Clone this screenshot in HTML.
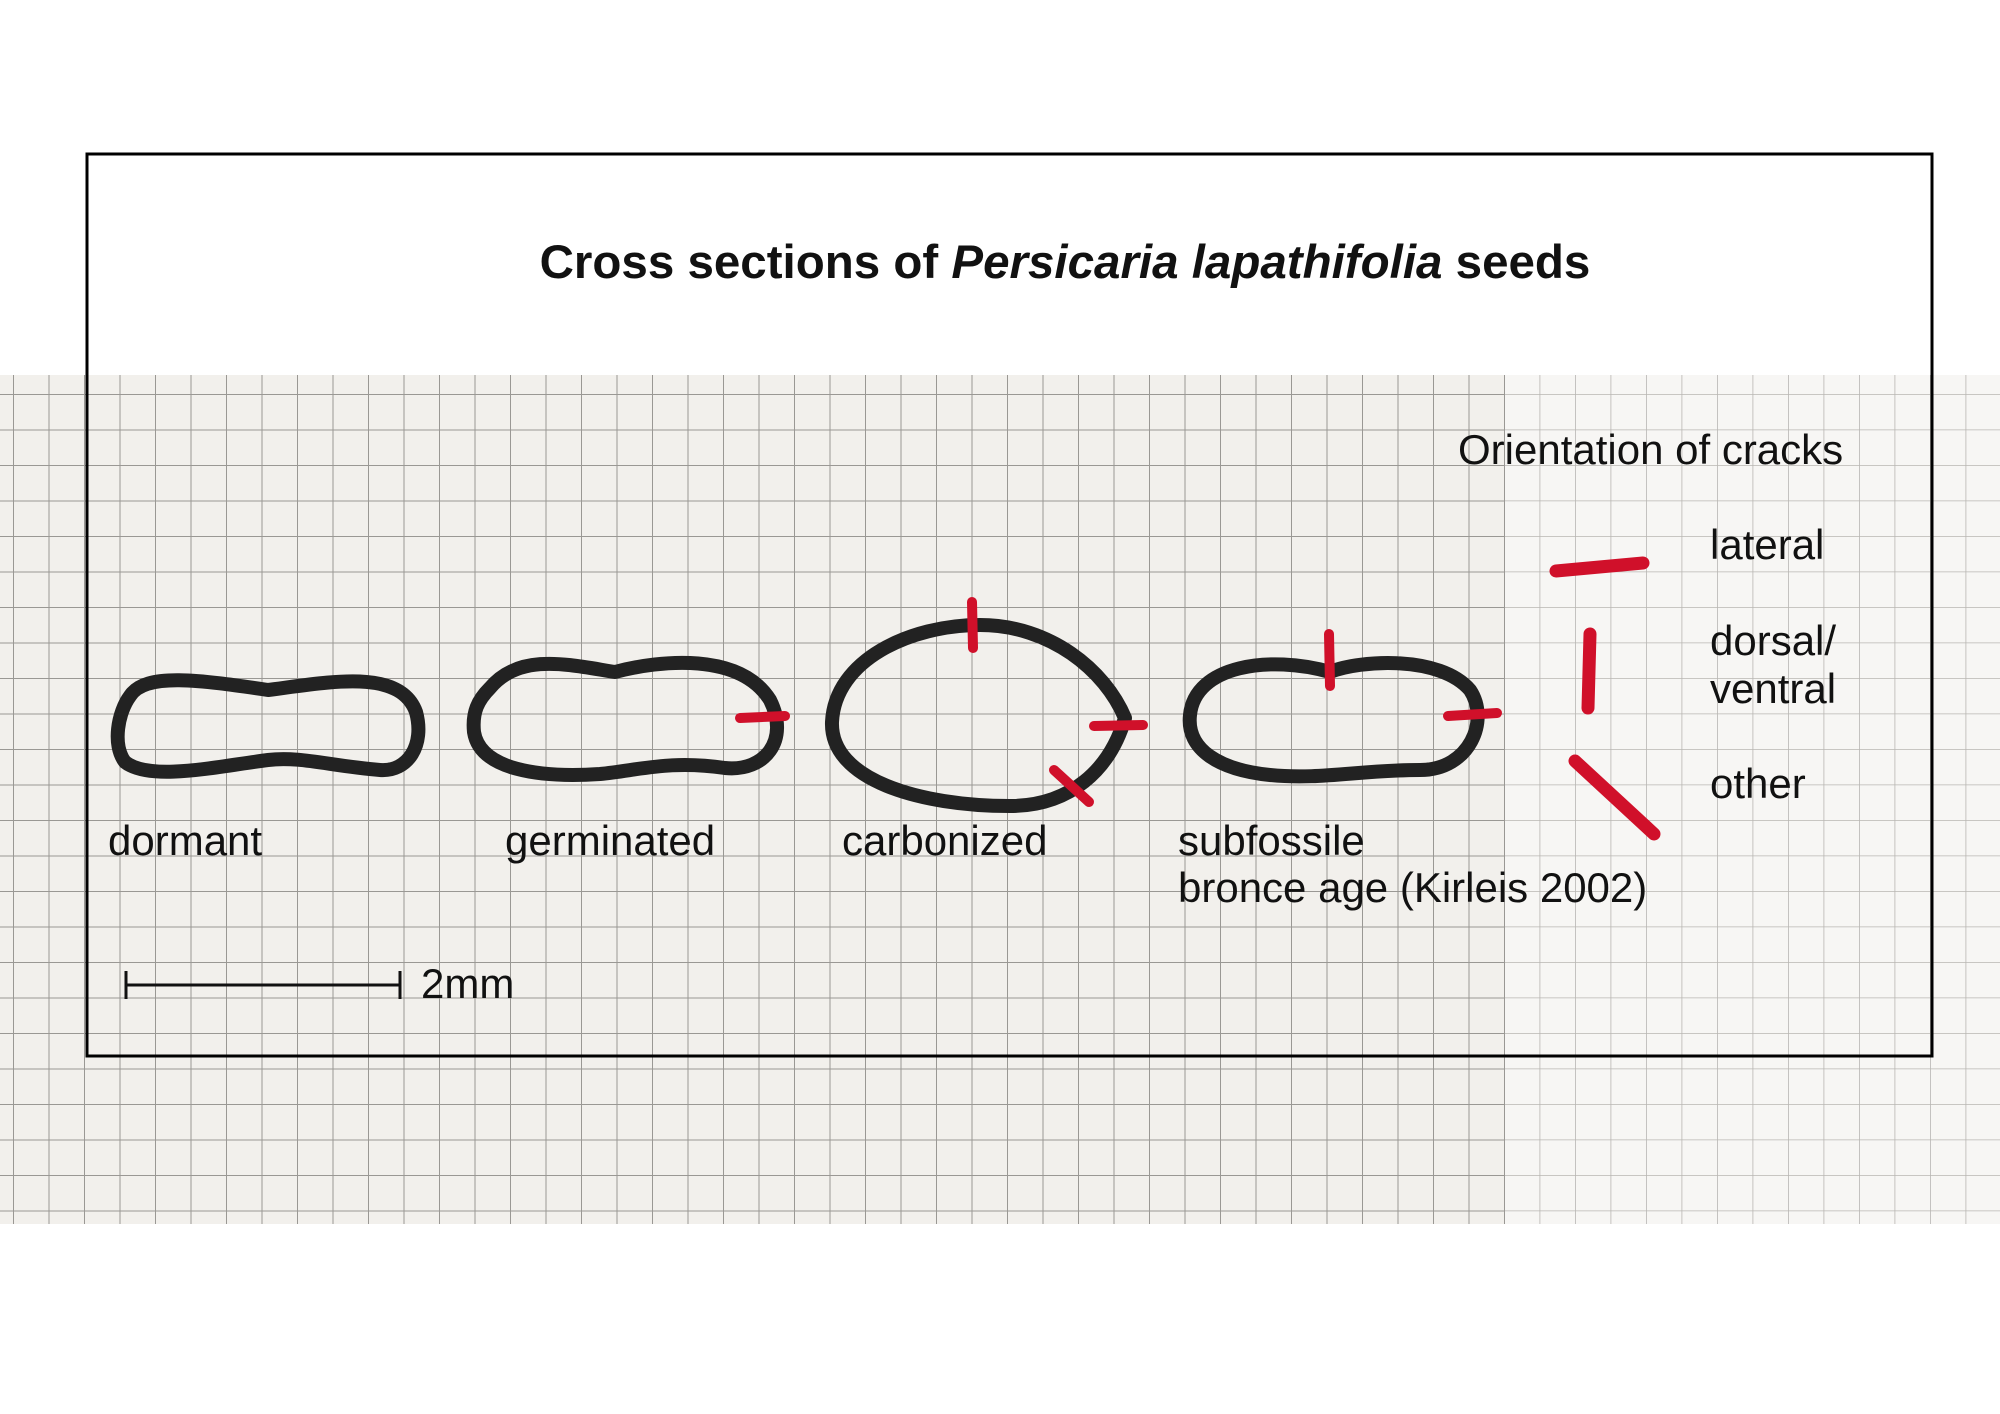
<!DOCTYPE html>
<html><head><meta charset="utf-8"><style>
html,body{margin:0;padding:0;background:#fff}
svg{display:block}
text{font-family:"Liberation Sans",sans-serif;fill:#111}
</style></head><body>
<svg width="2000" height="1414" viewBox="0 0 2000 1414" xmlns="http://www.w3.org/2000/svg">
<defs>
<pattern id="g" x="13" y="394" width="35.5" height="35.5" patternUnits="userSpaceOnUse">
<path d="M0 0V35.5M0 0H35.5" stroke="#9a9894" stroke-width="2" fill="none"/>
</pattern>
<pattern id="g2" x="13" y="394" width="35.5" height="35.5" patternUnits="userSpaceOnUse">
<path d="M0 0V35.5M0 0H35.5" stroke="#b8b6b2" stroke-width="1.6" fill="none"/>
</pattern>
</defs>
<rect x="0" y="375" width="1505" height="849" fill="#f2f0ec"/>
<rect x="0" y="375" width="1505" height="849" fill="url(#g)"/>
<rect x="1505" y="375" width="495" height="849" fill="#f7f6f4"/>
<rect x="1505" y="375" width="495" height="849" fill="url(#g2)"/>
<rect x="87" y="154" width="1845" height="902" fill="none" stroke="#000" stroke-width="3"/>
<text x="1065" y="278" font-size="47.5" font-weight="bold" text-anchor="middle">Cross sections of <tspan font-style="italic">Persicaria lapathifolia</tspan> seeds</text>
<g fill="none" stroke="#222" stroke-width="14" stroke-linejoin="round">
<path d="M130,696 C145,672 200,680 268,690 C330,682 400,668 416,712 C425,745 408,772 380,770 C330,766 300,756 268,760 C220,766 150,782 125,762 C112,745 118,712 130,696 Z"/>
<path d="M490,688 C520,652 570,665 615,672 C660,660 740,652 770,700 C790,740 765,772 725,768 C670,760 640,770 600,774 C540,778 480,770 474,732 C472,712 478,700 490,688 Z"/>
<path d="M832,722 C835,660 910,625 980,625 C1050,625 1105,670 1125,718 C1110,770 1070,806 1010,806 C920,806 830,780 832,722 Z"/>
<path d="M1190,715 C1195,665 1270,655 1330,672 C1360,660 1440,655 1470,690 C1490,720 1470,770 1420,770 C1360,770 1320,780 1270,775 C1220,770 1186,750 1190,715 Z"/>
</g>
<g stroke="#d0102a" stroke-width="10" stroke-linecap="round" fill="none">
<path d="M740,718 L785,716"/>
<path d="M972,602 L973,648"/>
<path d="M1094,726 L1143,725"/>
<path d="M1054,770 L1089,802"/>
<path d="M1329,634 L1330,686"/>
<path d="M1448,716 L1497,713"/>
<path d="M1556,571 L1643,563" stroke-width="13"/>
<path d="M1590,634 L1588,708" stroke-width="13"/>
<path d="M1575,761 L1654,834" stroke-width="13"/>
</g>
<g font-size="42">
<text x="108" y="855">dormant</text>
<text x="505" y="855">germinated</text>
<text x="842" y="855">carbonized</text>
<text x="1178" y="855">subfossile</text>
<text x="1178" y="902">bronce age (Kirleis 2002)</text>
<text x="1458" y="464">Orientation of cracks</text>
<text x="1710" y="559">lateral</text>
<text x="1710" y="655">dorsal/</text>
<text x="1710" y="703">ventral</text>
<text x="1710" y="798">other</text>
<text x="421" y="998">2mm</text>
</g>
<g stroke="#111" stroke-width="3">
<path d="M126,985 H400 M126,971 V999 M400,971 V999"/>
</g>
</svg>
</body></html>
